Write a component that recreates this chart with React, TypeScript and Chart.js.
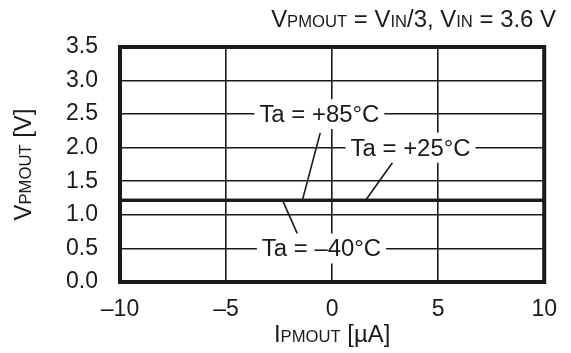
import React, { useEffect, useRef } from "react";
import { Chart, registerables } from "chart.js";

Chart.register(...registerables);

// ---- data ----
const xRange = [-10, 10];
const seriesNames = ["Ta = +85°C", "Ta = +25°C", "Ta = –40°C"];
const seriesX = [-10, 10];
const ta85 = [1.21, 1.21];
const ta25 = [1.22, 1.22];
const taM40 = [1.22, 1.22];
const yTicks = [0, 0.5, 1.0, 1.5, 2.0, 2.5, 3.0, 3.5];
const xTicks = [-10, -5, 0, 5, 10];

// label anchor positions (data units)
const labelX = [-0.6, 3.7, -0.5];
const labelY = [2.5, 2.0, 0.5];
// leader lines: [x1, y1, x2, y2] in data units
const leaders = [
  [-0.56, 2.22, -1.4, 1.22],
  [2.85, 1.78, 1.59, 1.22],
  [-2.34, 1.22, -1.5, 0.62],
];

const FONT = "Liberation Sans, Arial, Helvetica, sans-serif";
const BIG = 23;
const SMALL = 16;
const STRETCH = 1.04;

type Part = { t: string; s?: boolean };

function richWidth(ctx: CanvasRenderingContext2D, parts: Part[]) {
  let w = 0;
  for (const p of parts) {
    ctx.font = `${p.s ? SMALL : BIG}px ${FONT}`;
    w += ctx.measureText(p.t).width;
  }
  return w;
}

function drawRich(
  ctx: CanvasRenderingContext2D,
  parts: Part[],
  x: number,
  y: number,
  align: "left" | "center" | "right"
) {
  ctx.save();
  ctx.translate(x, y);
  ctx.scale(STRETCH, 1);
  const w = richWidth(ctx, parts);
  let cx = align === "left" ? 0 : align === "center" ? -w / 2 : -w;
  ctx.textBaseline = "alphabetic";
  ctx.textAlign = "left";
  for (const p of parts) {
    ctx.font = `${p.s ? SMALL : BIG}px ${FONT}`;
    ctx.fillText(p.t, cx, 0);
    cx += ctx.measureText(p.t).width;
  }
  ctx.restore();
}

const decorPlugin = {
  id: "decor",
  afterDatasetsDraw(chart: any) {
    const { ctx, chartArea, scales } = chart;
    const xs = scales.x;
    const ys = scales.y;
    ctx.save();
    // frame
    ctx.strokeStyle = "#1a1a1a";
    ctx.lineWidth = 4;
    ctx.strokeRect(
      chartArea.left,
      chartArea.top,
      chartArea.right - chartArea.left,
      chartArea.bottom - chartArea.top
    );
    // leader lines
    ctx.lineWidth = 1.6;
    for (const l of leaders) {
      ctx.beginPath();
      ctx.moveTo(xs.getPixelForValue(l[0]), ys.getPixelForValue(l[1]));
      ctx.lineTo(xs.getPixelForValue(l[2]), ys.getPixelForValue(l[3]));
      ctx.stroke();
    }
    // labels with white boxes
    for (let i = 0; i < seriesNames.length; i++) {
      const px = xs.getPixelForValue(labelX[i]);
      const py = ys.getPixelForValue(labelY[i]);
      ctx.font = `${BIG}px ${FONT}`;
      const w = ctx.measureText(seriesNames[i]).width * STRETCH;
      ctx.fillStyle = "#fff";
      ctx.fillRect(px - w / 2 - 5, py - 15, w + 10, 30);
      ctx.fillStyle = "#1a1a1a";
      drawRich(ctx, [{ t: seriesNames[i] }], px, py + 8, "center");
    }
    // title
    ctx.fillStyle = "#1a1a1a";
    drawRich(
      ctx,
      [
        { t: "V" },
        { t: "PMOUT", s: true },
        { t: " = V" },
        { t: "IN", s: true },
        { t: "/3, V" },
        { t: "IN", s: true },
        { t: " = 3.6 V" },
      ],
      556,
      27,
      "right"
    );
    // x axis title
    drawRich(
      ctx,
      [{ t: "I" }, { t: "PMOUT", s: true }, { t: " [µA]" }],
      (chartArea.left + chartArea.right) / 2,
      342,
      "center"
    );
    // y axis title
    ctx.translate(31, (chartArea.top + chartArea.bottom) / 2);
    ctx.rotate(-Math.PI / 2);
    drawRich(ctx, [{ t: "V" }, { t: "PMOUT", s: true }, { t: " [V]" }], 0, 0, "center");
    ctx.restore();
  },
};

export default function App() {
  const ref = useRef<HTMLCanvasElement | null>(null);
  useEffect(() => {
    document.body.style.margin = "0";
    const mk = (d: number[]) => seriesX.map((x, i) => ({ x, y: d[i] }));
    const chart = new Chart(ref.current!, {
      type: "line",
      data: {
        datasets: [ta85, ta25, taM40].map((d, i) => ({
          label: seriesNames[i],
          data: mk(d),
          borderColor: "#1a1a1a",
          borderWidth: 2.5,
          pointRadius: 0,
          fill: false,
        })),
      },
      options: {
        animation: false,
        responsive: false,
        devicePixelRatio: 1,
        layout: { padding: { top: 47, right: 22, left: 0, bottom: 0 } },
        plugins: { legend: { display: false }, tooltip: { enabled: false } },
        scales: {
          x: {
            type: "linear",
            min: xRange[0],
            max: xRange[1],
            afterBuildTicks: (s: any) => {
              s.ticks = xTicks.map((v) => ({ value: v }));
            },
            afterFit: (s: any) => {
              s.height = 71;
            },
            grid: { color: "#1a1a1a", lineWidth: 1.6, drawTicks: false },
            border: { display: false },
            ticks: {
              padding: 14,
              color: "#1a1a1a",
              font: { family: FONT, size: BIG },
              maxRotation: 0,
              callback: (v: any) => String(v).replace("-", "–"),
            },
          },
          y: {
            type: "linear",
            min: 0,
            max: 3.5,
            afterBuildTicks: (s: any) => {
              s.ticks = yTicks.map((v) => ({ value: v }));
            },
            afterFit: (s: any) => {
              s.width = 120;
            },
            grid: { color: "#1a1a1a", lineWidth: 1.6, drawTicks: false },
            border: { display: false },
            ticks: {
              padding: 22,
              color: "#1a1a1a",
              font: { family: FONT, size: BIG },
              callback: (v: any) => Number(v).toFixed(1),
            },
          },
        },
      },
      plugins: [decorPlugin],
    });
    return () => chart.destroy();
  }, []);
  return <canvas ref={ref} width={571} height={353} style={{ display: "block" }} />;
}
